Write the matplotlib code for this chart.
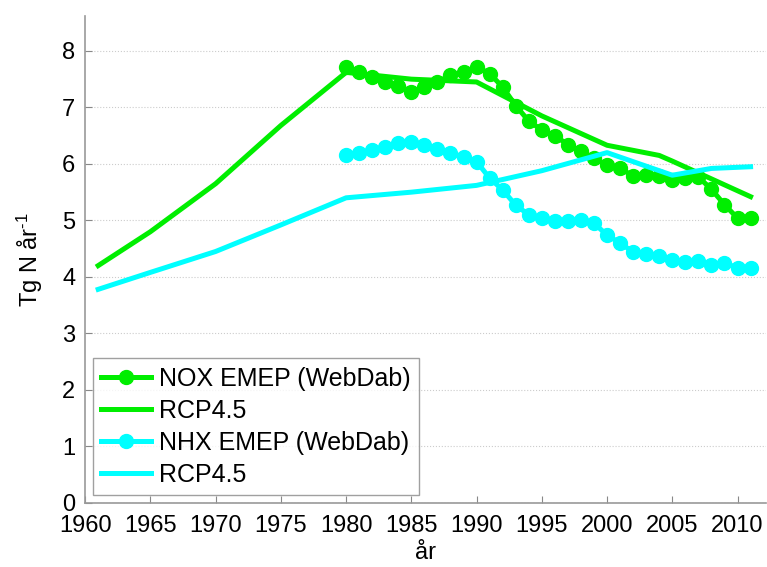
import matplotlib
matplotlib.use("Agg")
import matplotlib.pyplot as plt

emep_years = list(range(1980, 2012))
nox_emep = [7.72, 7.63, 7.54, 7.45, 7.38, 7.28, 7.36, 7.45, 7.57, 7.62, 7.72, 7.6, 7.36, 7.03, 6.76,
            6.6, 6.5, 6.34, 6.23, 6.1, 5.98, 5.93, 5.78, 5.8, 5.79, 5.72, 5.75, 5.77, 5.55, 5.28, 5.04, 5.04]
nhx_emep = [6.16, 6.19, 6.25, 6.3, 6.37, 6.39, 6.34, 6.27, 6.2, 6.12, 6.04, 5.75, 5.54, 5.27, 5.1,
            5.04, 4.99, 4.99, 5.0, 4.95, 4.74, 4.6, 4.44, 4.41, 4.37, 4.3, 4.27, 4.28, 4.21, 4.25, 4.16, 4.16]

nox_rcp_years = [1961, 1965, 1970, 1975, 1980, 1985, 1990, 1995, 2000, 2004, 2005, 2011]
nox_rcp = [4.2, 4.8, 5.65, 6.68, 7.62, 7.5, 7.45, 6.85, 6.33, 6.15, 6.05, 5.42]

nhx_rcp_years = [1961, 1965, 1970, 1975, 1980, 1985, 1990, 1995, 2000, 2005, 2008, 2011]
nhx_rcp = [3.78, 4.08, 4.45, 4.92, 5.4, 5.5, 5.62, 5.88, 6.2, 5.8, 5.92, 5.95]

labels = ["NOX EMEP (WebDab)", "RCP4.5", "NHX EMEP (WebDab)", "RCP4.5"]
green = "#00ee00"
cyan = "#00ffff"

plt.rcParams['font.family'] = ['Liberation Sans', 'DejaVu Sans']
plt.rcParams['mathtext.fontset'] = 'custom'
plt.rcParams['mathtext.rm'] = 'Liberation Sans'
plt.rcParams['mathtext.it'] = 'Liberation Sans'
plt.rcParams['mathtext.default'] = 'regular'

FS = 17
fig = plt.figure(figsize=(7.67, 5.67), dpi=100)
ax = fig.add_axes([0.111, 0.113, 0.888, 0.859])

ax.plot(emep_years, nox_emep, '-o', color=green, lw=3.6, ms=10, label=labels[0])
ax.plot(nox_rcp_years, nox_rcp, '-', color=green, lw=3.6, label=labels[1])
ax.plot(emep_years, nhx_emep, '-o', color=cyan, lw=3.6, ms=10, label=labels[2])
ax.plot(nhx_rcp_years, nhx_rcp, '-', color=cyan, lw=3.6, label=labels[3])

ax.set_xlim(1960, 2012.2)
ax.set_ylim(0, 8.62)
ax.set_xticks(range(1960, 2011, 5))
ax.set_yticks(range(0, 9))
ax.tick_params(direction='in', labelsize=FS, length=5, color='#888888')
ax.tick_params(axis='x', pad=9)
ax.tick_params(axis='y', pad=7)
for s in ['top', 'right']:
    ax.spines[s].set_visible(False)
for s in ['left', 'bottom']:
    ax.spines[s].set_color('#999999')
    ax.spines[s].set_linewidth(1.2)
ax.yaxis.grid(True, linestyle=':', color='#cccccc', lw=0.8)
ax.set_axisbelow(True)
ax.set_xlabel("år", fontsize=FS, labelpad=3)
ax.set_ylabel("Tg N år$^{\u2010 1}$", fontsize=FS, labelpad=12)

leg = ax.legend(loc='lower left', fontsize=18, frameon=True, fancybox=False,
                edgecolor='#888888', borderaxespad=0.3, handlelength=2.0,
                handletextpad=0.3, borderpad=0.35, labelspacing=0.32)
leg.get_frame().set_linewidth(1.0)

fig.savefig("out.png", dpi=100)
